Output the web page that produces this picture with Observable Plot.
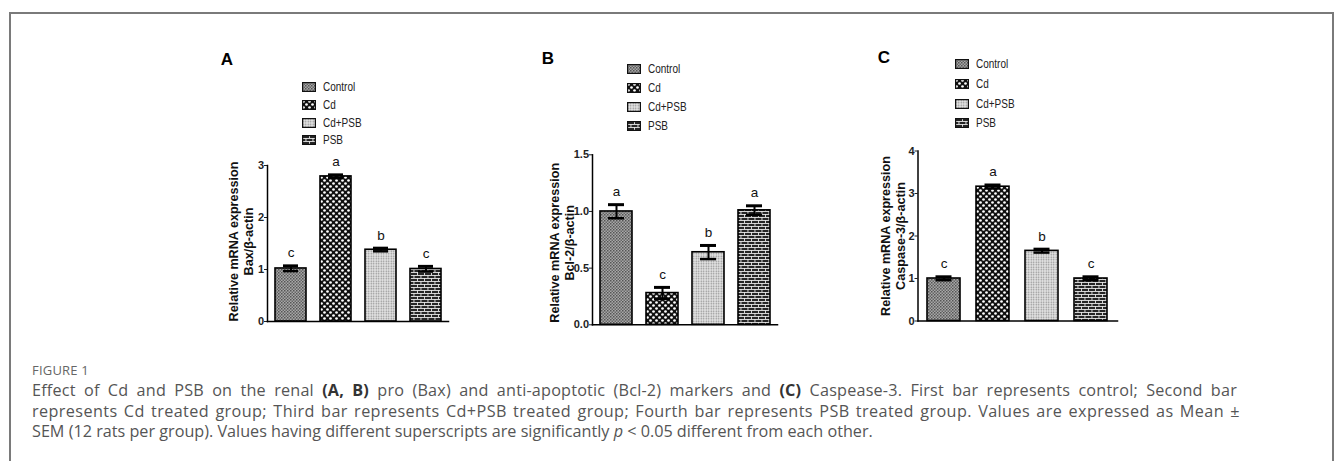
<!DOCTYPE html>
<html><head><meta charset="utf-8">
<script src="https://cdn.jsdelivr.net/npm/d3@7"></script>
<script src="https://cdn.jsdelivr.net/npm/@observablehq/plot@0.6"></script>
<style>
body{margin:0;background:#fff;width:1335px;height:461px;overflow:hidden;position:relative;font-family:"Liberation Sans",Arial,sans-serif;}
#frame{position:absolute;left:9px;top:12px;width:1321px;height:470px;border:2px solid #7a7a7a;border-bottom:none;}
.panel{position:absolute;}
.letter{position:absolute;font:bold 17px "Liberation Sans",Arial,sans-serif;color:#000;transform:translate(-50%,-50%);line-height:1;}
.legend{position:absolute;font-family:"Liberation Sans",Arial,sans-serif;font-size:12.5px;color:#222;}
.legend .row{position:absolute;left:0;display:flex;align-items:center;white-space:nowrap;transform:translateY(-50%);}
.legend .row svg{display:block;margin-right:7px;}
.legend .row span{display:inline-block;transform:scaleX(0.8);transform-origin:left center;}
#figlabel{position:absolute;left:32px;top:362px;font:13px "Open Sans",sans-serif;line-height:16px;color:#666;letter-spacing:0.2px;}
#caption{position:absolute;left:32px;top:380px;font:16.2px "Open Sans",sans-serif;line-height:20.5px;color:#555;white-space:nowrap;}
#caption div{white-space:nowrap;}
#caption .j{text-align:justify;text-align-last:justify;}
#caption b{color:#333;font-weight:700;}
</style>
</head><body>
<svg width="0" height="0" style="position:absolute">
  <defs>
    <pattern id="pControl" width="3" height="3" patternUnits="userSpaceOnUse">
      <rect width="3" height="3" fill="#a8a8a8"/>
      <rect x="0" y="0" width="1.5" height="1.5" fill="#555"/>
      <rect x="1.5" y="1.5" width="1.5" height="1.5" fill="#666"/>
    </pattern>
    <pattern id="pCd" width="6" height="6" patternUnits="userSpaceOnUse">
      <rect width="6" height="6" fill="#111"/>
      <circle cx="1.5" cy="1.5" r="1.35" fill="#fff"/>
      <circle cx="4.5" cy="4.5" r="1.35" fill="#fff"/>
    </pattern>
    <pattern id="pCdPSB" width="2.5" height="2.5" patternUnits="userSpaceOnUse">
      <rect width="2.5" height="2.5" fill="#e6e6e6"/>
      <circle cx="1.25" cy="1.25" r="0.75" fill="#8a8a8a"/>
    </pattern>
    <pattern id="pPSB" width="7" height="6" patternUnits="userSpaceOnUse">
      <rect width="7" height="6" fill="#262626"/>
      <rect x="0" y="0" width="7" height="0.9" fill="#e8e8e8"/>
      <rect x="0" y="3" width="7" height="0.9" fill="#e8e8e8"/>
      <rect x="0" y="0" width="0.9" height="3" fill="#e8e8e8"/>
      <rect x="3.5" y="3" width="0.9" height="3" fill="#e8e8e8"/>
    </pattern>
  </defs>
</svg>
<div id="frame"></div>
<div id="root"></div>
<div id="figlabel">FIGURE 1</div>
<div id="caption">
<div class="j" style="width:1205px;letter-spacing:0.2px">Effect of Cd and PSB on the renal <b>(A, B)</b> pro (Bax) and anti-apoptotic (Bcl-2) markers and <b>(C)</b> Caspease-3. First bar represents control; Second bar</div>
<div class="j" style="width:1208px;letter-spacing:0.4px">represents Cd treated group; Third bar represents Cd+PSB treated group; Fourth bar represents PSB treated group. Values are expressed as Mean &plusmn;</div>
<div>SEM (12 rats per group). Values having different superscripts are significantly <i>p</i> &lt; 0.05 different from each other.</div>
</div>
<script>
// ---- data ----
const groups = ["Control", "Cd", "Cd+PSB", "PSB"];
const panelLetters = ["A", "B", "C"];

const baxMean = [1.02, 2.79, 1.38, 1.01];
const baxSem = [0.05, 0.03, 0.03, 0.05];
const baxSig = ["c", "a", "b", "c"];

const bclMean = [1.00, 0.28, 0.64, 1.01];
const bclSem = [0.06, 0.05, 0.06, 0.04];
const bclSig = ["a", "c", "b", "a"];

const casMean = [1.00, 3.16, 1.65, 1.00];
const casSem = [0.04, 0.04, 0.04, 0.04];
const casSig = ["c", "a", "b", "c"];

const baxTicks = [0, 1, 2, 3];
const bclTicks = [0, 0.5, 1.0, 1.5];
const casTicks = [0, 1, 2, 3, 4];

const baxLabel = "Relative mRNA expression\nBax/β-actin";
const bclLabel = "Relative mRNA expression\nBcl-2/β-actin";
const casLabel = "Relative mRNA expression\nCaspase-3/β-actin";

const patternFills = ["url(#pControl)", "url(#pCd)", "url(#pCdPSB)", "url(#pPSB)"];

// ---- layout ----
const root = document.getElementById("root");

function makePanel(cfg) {
  const data = groups.map((g, i) => ({
    group: g, mean: cfg.mean[i], sem: cfg.sem[i], sig: cfg.sig[i],
    lo: cfg.mean[i] - cfg.sem[i], hi: cfg.mean[i] + cfg.sem[i]
  }));
  const chart = Plot.plot({
    width: cfg.width, height: cfg.height,
    marginLeft: cfg.ml, marginRight: cfg.mr, marginTop: cfg.mt, marginBottom: cfg.mb,
    style: {fontFamily: "Liberation Sans, Arial, sans-serif", background: "transparent", overflow: "visible"},
    x: {domain: groups, axis: null, paddingInner: cfg.pi, paddingOuter: cfg.po},
    y: {domain: [0, cfg.ticks[cfg.ticks.length - 1]], axis: null},
    color: {type: "ordinal", domain: groups, range: patternFills},
    marks: [
      Plot.barY(data, {x: "group", y: "mean", fill: "group", stroke: "#000", strokeWidth: 1.6}),
      Plot.ruleX(data, {x: "group", y1: "lo", y2: "hi", stroke: "#000", strokeWidth: 2}),
      Plot.tickY(data, {x: "group", y: "hi", stroke: "#000", strokeWidth: 3, insetLeft: cfg.cap, insetRight: cfg.cap}),
      Plot.tickY(data, {x: "group", y: "lo", stroke: "#000", strokeWidth: 2.5, insetLeft: cfg.cap, insetRight: cfg.cap}),
      Plot.text(data, {x: "group", y: "hi", text: "sig", dy: -13, fontSize: 13.5, fill: "#111"}),
      Plot.axisY({ticks: cfg.ticks, tickFormat: cfg.fmt, tickSize: 3, tickPadding: 0.5, fontSize: 11, fontWeight: "bold", color: "#222", label: null}),
      Plot.frame({anchor: "left", stroke: "#000", strokeWidth: 1.5}),
      Plot.frame({anchor: "bottom", stroke: "#000", strokeWidth: 1.5}),
      Plot.text([cfg.label], {frameAnchor: "left", text: d => d, rotate: -90, textAnchor: "middle", lineAnchor: "middle", lineHeight: 1.2, dx: cfg.labelDx, dy: cfg.labelDy, fontSize: 12.6, fontWeight: "bold", fill: "#111"})
    ]
  });
  const wrap = document.createElement("div");
  wrap.className = "panel";
  wrap.style.left = cfg.left + "px";
  wrap.style.top = cfg.top + "px";
  wrap.appendChild(chart);
  root.appendChild(wrap);

  // panel letter
  const L = document.createElement("div");
  L.className = "letter";
  L.textContent = cfg.letter;
  L.style.left = cfg.letterX + "px";
  L.style.top = cfg.letterY + "px";
  root.appendChild(L);

  // legend
  const leg = document.createElement("div");
  leg.className = "legend";
  leg.style.left = cfg.legX + "px";
  leg.style.top = cfg.legY + "px";
  groups.forEach((g, i) => {
    const row = document.createElement("div");
    row.className = "row";
    row.style.top = (i * cfg.legStep) + "px";
    row.innerHTML = `<svg width="14" height="10"><rect x="0.6" y="0.6" width="12.8" height="8.8" fill="${patternFills[i]}" stroke="#111" stroke-width="1.2"/></svg><span>${g}</span>`;
    leg.appendChild(row);
  });
  root.appendChild(leg);
}

makePanel({
  mean: baxMean, sem: baxSem, sig: baxSig, ticks: baxTicks, fmt: d3.format("d"), label: baxLabel,
  left: 200, top: 140, width: 260, height: 200, ml: 67, mr: 12, mt: 25, mb: 19,
  pi: 0.314, po: 0.16, cap: 8, labelDx: -27, labelDy: -2,
  letter: panelLetters[0], letterX: 227, letterY: 58.5,
  legX: 302, legY: 87, legStep: 17.8
});
makePanel({
  mean: bclMean, sem: bclSem, sig: bclSig, ticks: bclTicks, fmt: d3.format(".1f"), label: bclLabel,
  left: 520, top: 130, width: 270, height: 210, ml: 72, mr: 13, mt: 24.3, mb: 15.7,
  pi: 0.312, po: 0.145, cap: 8, labelDx: -30.5, labelDy: 3,
  letter: panelLetters[1], letterX: 548, letterY: 57.5,
  legX: 627, legY: 68.5, legStep: 19.2
});
makePanel({
  mean: casMean, sem: casSem, sig: casSig, ticks: casTicks, fmt: d3.format("d"), label: casLabel,
  left: 850, top: 126, width: 280, height: 210, ml: 67.5, mr: 13, mt: 24.5, mb: 15.5,
  pi: 0.333, po: 0.187, cap: 8.5, labelDx: -25.5, labelDy: 0,
  letter: panelLetters[2], letterX: 884, letterY: 57,
  legX: 955, legY: 64, legStep: 19.8
});
</script>
</body></html>
